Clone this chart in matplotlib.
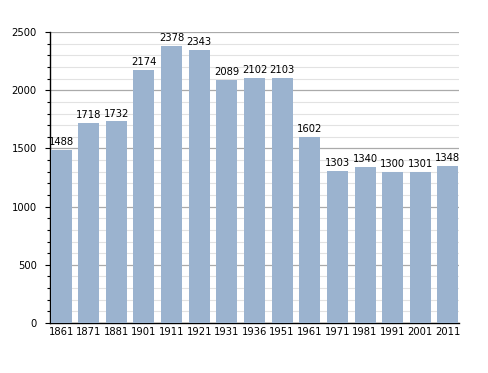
import matplotlib
matplotlib.use("Agg")
from matplotlib import pyplot as plt
from matplotlib.ticker import MultipleLocator

years = ["1861", "1871", "1881", "1901", "1911", "1921", "1931", "1936",
         "1951", "1961", "1971", "1981", "1991", "2001", "2011"]
population = [1488, 1718, 1732, 2174, 2378, 2343, 2089, 2102,
              2103, 1602, 1303, 1340, 1300, 1301, 1348]

fig = plt.figure(figsize=(4.88, 3.73), dpi=100)
ax = fig.add_axes([0.1025, 0.134, 0.838, 0.780])

x = range(len(years))
ax.bar(x, population, width=0.76, color="#9bb3cf", zorder=3)
for xi, v in zip(x, population):
    ax.text(xi, v + 25, str(v), ha="center", va="bottom", fontsize=7.2,
            color="black", zorder=4)

ax.set_xlim(-0.40, len(years) - 0.60)
ax.set_ylim(0, 2500)
ax.set_xticks(list(x))
ax.set_xticklabels(years, fontsize=7.2)
ax.yaxis.set_major_locator(MultipleLocator(500))
ax.yaxis.set_minor_locator(MultipleLocator(100))
ax.tick_params(axis="y", labelsize=7.2, length=3.5, width=0.8, pad=6)
ax.tick_params(axis="y", which="minor", length=2, width=0.8)
ax.tick_params(axis="x", length=0, pad=3)

ax.grid(axis="y", which="major", color="#aaaaaa", linewidth=0.9, zorder=0)
ax.grid(axis="y", which="minor", color="#e2e2e2", linewidth=0.8, zorder=0)
for s in ["top", "right"]:
    ax.spines[s].set_visible(False)
ax.spines["left"].set_linewidth(1.0)
ax.spines["bottom"].set_linewidth(1.0)

fig.savefig("out.png", dpi=100)
